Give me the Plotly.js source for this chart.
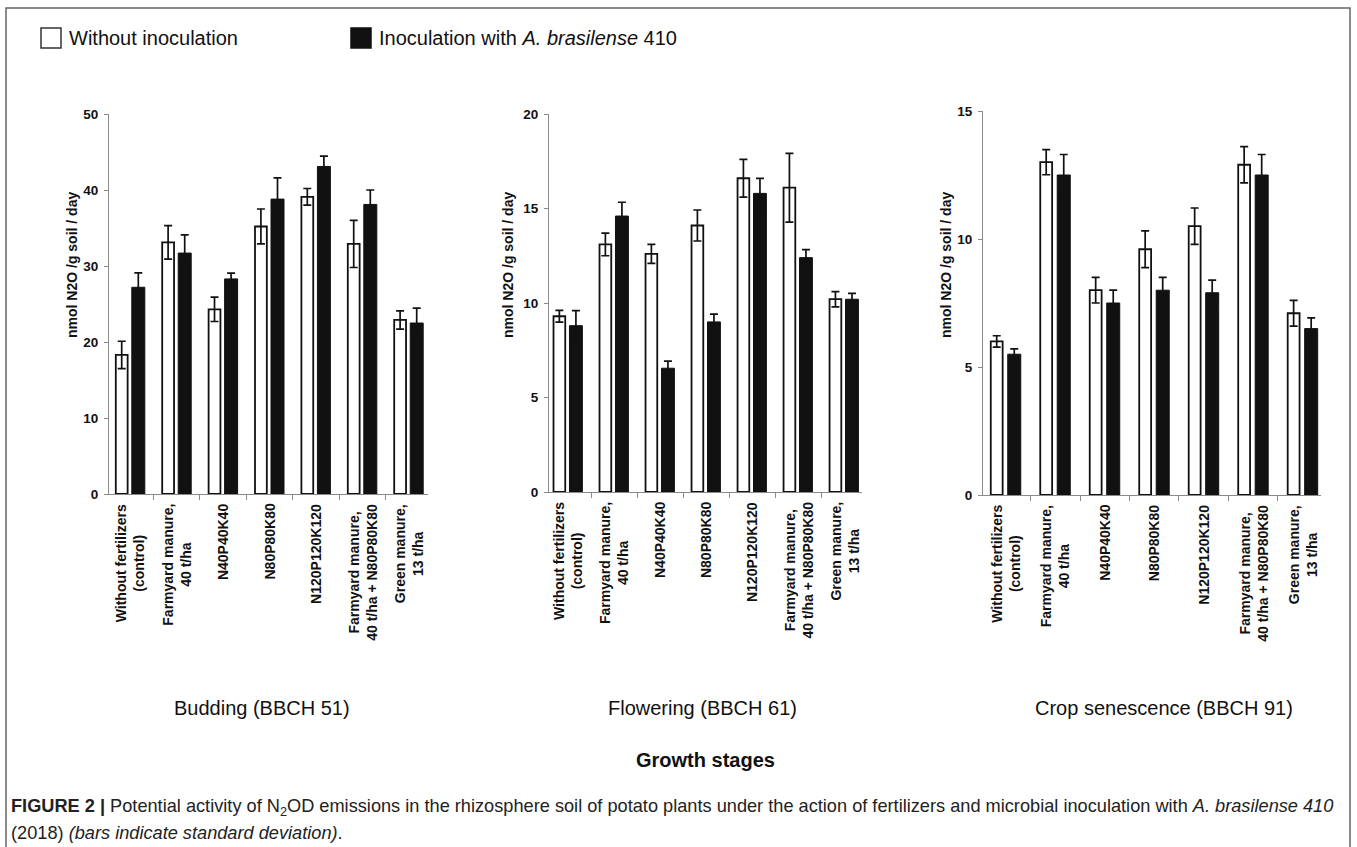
<!DOCTYPE html>
<html>
<head>
<meta charset="utf-8">
<script src="https://cdn.plot.ly/plotly-3.0.1.min.js"></script>
<style>
html,body{margin:0;padding:0;background:#fff;}
#chart{width:1357px;height:847px;}
</style>
</head>
<body>
<div id="chart"></div>
<script>
// ---------------- DATA ----------------
const categories = [
  "Without fertilizers<br>(control)",
  "Farmyard manure,<br>40 t/ha",
  "N40P40K40",
  "N80P80K80",
  "N120P120K120",
  "Farmyard manure,<br>40 t/ha + N80P80K80",
  "Green manure,<br>13 t/ha"
];
const stages = ["Budding (BBCH 51)", "Flowering (BBCH 61)", "Crop senescence (BBCH 91)"];
const seriesNames = ["Without inoculation", "Inoculation with <i>A. brasilense</i> 410"];

const buddingWithout     = [18.3, 33.1, 24.3, 35.2, 39.1, 32.9, 22.9];
const buddingWithoutSD   = [1.8, 2.2, 1.6, 2.3, 1.1, 3.1, 1.2];
const buddingInoc        = [27.2, 31.7, 28.3, 38.8, 43.1, 38.1, 22.5];
const buddingInocSD      = [1.9, 2.4, 0.75, 2.8, 1.35, 1.9, 1.95];

const floweringWithout   = [9.3, 13.1, 12.6, 14.1, 16.6, 16.1, 10.2];
const floweringWithoutSD = [0.31, 0.6, 0.5, 0.82, 1.0, 1.82, 0.4];
const floweringInoc      = [8.8, 14.6, 6.55, 9.0, 15.8, 12.4, 10.2];
const floweringInocSD    = [0.8, 0.73, 0.37, 0.41, 0.79, 0.42, 0.31];

const senescenceWithout   = [6.0, 13.0, 8.0, 9.6, 10.5, 12.9, 7.1];
const senescenceWithoutSD = [0.22, 0.49, 0.5, 0.72, 0.71, 0.71, 0.5];
const senescenceInoc      = [5.5, 12.5, 7.5, 8.0, 7.9, 12.5, 6.5];
const senescenceInocSD    = [0.21, 0.8, 0.5, 0.5, 0.49, 0.8, 0.42];

const yTickSteps = [10, 5, 5];
const yMax = [50, 20, 15];
const yTitle = "nmol N2O /g soil / day";
const xTitle = "Growth stages";
const captionLine1 = "<b>FIGURE 2 |</b> Potential activity of N<sub>2</sub>OD emissions in the rhizosphere soil of potato plants under the action of fertilizers and microbial inoculation with <i>A. brasilense 410</i>";
const captionLine2 = "(2018) <i>(bars indicate standard deviation)</i>.";

// ---------------- LAYOUT / STYLE ----------------
const W = 1357, H = 847;
const px = x => x / W;
const py = y => 1 - y / H;
const FONT = "Liberation Sans, Arial, Helvetica, sans-serif";
const AXC = "#8a8a8a";

const panels = [
  {w: buddingWithout, wsd: buddingWithoutSD, b: buddingInoc, bsd: buddingInocSD,
   xd: [109, 428], yd: [114, 494], xr: [-0.459, 6.416], ww: 0.255, wo: -0.3125, bw: 0.28, bo: 0.0325,
   ytitleX: 72, titleX: 262},
  {w: floweringWithout, wsd: floweringWithoutSD, b: floweringInoc, bsd: floweringInocSD,
   xd: [549, 862], yd: [114, 492], xr: [-0.413, 6.39], ww: 0.255, wo: -0.315, bw: 0.28, bo: 0.032,
   ytitleX: 508, titleX: 702},
  {w: senescenceWithout, wsd: senescenceWithoutSD, b: senescenceInoc, bsd: senescenceInocSD,
   xd: [983, 1321], yd: [111, 495], xr: [-0.46, 6.37], ww: 0.24, wo: -0.303, bw: 0.263, bo: 0.04,
   ytitleX: 946, titleX: 1164}
];

const traces = [];
const layout = {
  width: W, height: H,
  margin: {l: 0, r: 0, t: 0, b: 0},
  paper_bgcolor: "#fff", plot_bgcolor: "#fff",
  showlegend: false,
  bargap: 0,
  font: {family: FONT, color: "#111"},
  annotations: [],
  shapes: []
};

panels.forEach((p, i) => {
  const sfx = i === 0 ? "" : String(i + 1);
  const xa = "x" + sfx, ya = "y" + sfx;
  traces.push({
    type: "bar", x: categories, y: p.w, xaxis: xa, yaxis: ya,
    name: seriesNames[0], width: p.ww, offset: p.wo,
    marker: {color: "#ffffff", line: {color: "#111", width: 1.8}},
    error_y: {type: "data", array: p.wsd, visible: true, color: "#111", thickness: 1.7, width: 4}
  });
  traces.push({
    type: "bar", x: categories, y: p.b, xaxis: xa, yaxis: ya,
    name: seriesNames[1], width: p.bw, offset: p.bo,
    marker: {color: "#111111", line: {color: "#111", width: 1}},
    error_y: {type: "data", array: p.bsd, visible: true, color: "#111", thickness: 1.7, width: 4}
  });
  layout["xaxis" + sfx] = {
    domain: [px(p.xd[0]), px(p.xd[1])], range: p.xr, type: "category",
    anchor: ya, tickson: "boundaries", ticks: "outside", ticklen: 5, tickcolor: AXC, tickwidth: 1,
    showline: true, linecolor: AXC, linewidth: 1, showticklabels: false,
    showgrid: false, zeroline: false, fixedrange: true
  };
  layout["yaxis" + sfx] = {
    domain: [py(p.yd[1]), py(p.yd[0])], range: [0, yMax[i]], dtick: yTickSteps[i], tick0: 0,
    anchor: xa, ticks: "outside", ticklen: 4, tickcolor: AXC, tickwidth: 1,
    showline: true, linecolor: AXC, linewidth: 1, ticklabelstandoff: 3,
    tickfont: {family: FONT, size: 13.5, color: "#111", weight: "bold"},
    showgrid: false, zeroline: false, fixedrange: true
  };
  categories.forEach((c, k) => {
    layout.annotations.push({
      xref: xa, yref: "paper", x: k, y: py(p.yd[1] + 8),
      xanchor: "center", yanchor: "top", textangle: -90, align: "center",
      showarrow: false, text: "<b>" + c + "</b>",
      font: {family: FONT, size: 14, color: "#111"}
    });
  });
  layout.annotations.push({
    xref: "paper", yref: "paper", x: px(p.ytitleX), y: py(265),
    xanchor: "center", yanchor: "middle", textangle: -90, showarrow: false,
    text: "<b>" + yTitle + "</b>", font: {family: FONT, size: 14, color: "#111"}
  });
  layout.annotations.push({
    xref: "paper", yref: "paper", x: px(p.titleX), y: py(708),
    xanchor: "center", yanchor: "middle", showarrow: false,
    text: stages[i], font: {family: FONT, size: 20, color: "#111"}
  });
});

layout.annotations.push({
  xref: "paper", yref: "paper", x: px(705), y: py(760), xanchor: "center", yanchor: "middle",
  showarrow: false, text: "<b>" + xTitle + "</b>", font: {family: FONT, size: 20, color: "#111"}
});
layout.annotations.push({
  xref: "paper", yref: "paper", x: px(9), y: py(807), xanchor: "left", yanchor: "middle",
  showarrow: false, text: captionLine1, font: {family: FONT, size: 18.2, color: "#222"}
});
layout.annotations.push({
  xref: "paper", yref: "paper", x: px(9), y: py(833), xanchor: "left", yanchor: "middle",
  showarrow: false, text: captionLine2, font: {family: FONT, size: 18.2, color: "#222"}
});
// legend (manual)
layout.shapes.push({type: "rect", xref: "paper", yref: "paper",
  x0: px(41), x1: px(61), y0: py(48), y1: py(28), fillcolor: "#fff", line: {color: "#333", width: 1.5}});
layout.annotations.push({xref: "paper", yref: "paper", x: px(67), y: py(38), xanchor: "left", yanchor: "middle",
  showarrow: false, text: seriesNames[0], font: {family: FONT, size: 20, color: "#111"}});
layout.shapes.push({type: "rect", xref: "paper", yref: "paper",
  x0: px(351), x1: px(371), y0: py(48), y1: py(28), fillcolor: "#111", line: {color: "#111", width: 1.5}});
layout.annotations.push({xref: "paper", yref: "paper", x: px(377), y: py(38), xanchor: "left", yanchor: "middle",
  showarrow: false, text: seriesNames[1], font: {family: FONT, size: 20, color: "#111"}});
// frame
layout.shapes.push({type: "path", xref: "paper", yref: "paper",
  path: `M ${px(6)} ${py(847)} L ${px(6)} ${py(8)} L ${px(1350)} ${py(8)} L ${px(1350)} ${py(847)}`,
  line: {color: "#666", width: 1.5}});

Plotly.newPlot("chart", traces, layout, {displayModeBar: false, staticPlot: true});
</script>
</body>
</html>
